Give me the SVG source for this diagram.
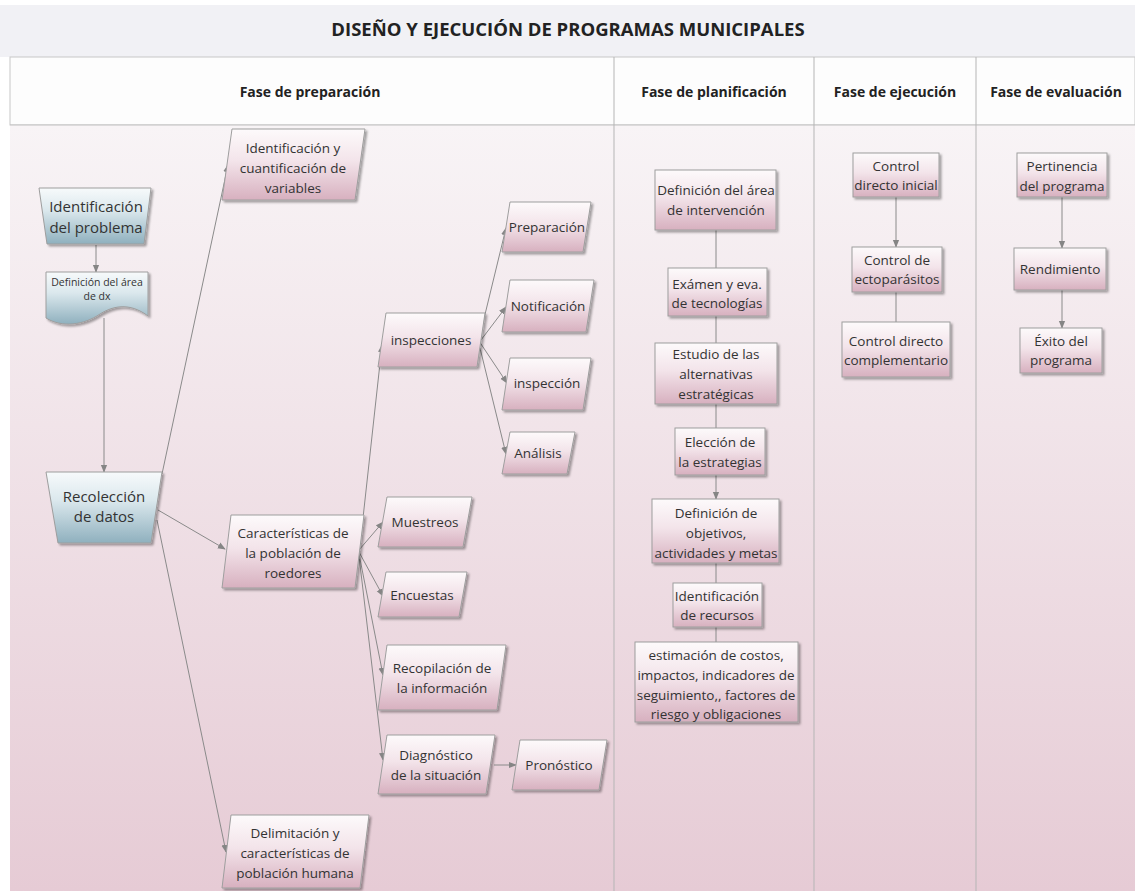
<svg xmlns="http://www.w3.org/2000/svg" width="1135" height="891" viewBox="0 0 1135 891">
<defs>
<linearGradient id="bodyG" x1="0" y1="0" x2="0" y2="1">
<stop offset="0" stop-color="#f8f4f6"/>
<stop offset="1" stop-color="#e6cbd5"/>
</linearGradient>
<linearGradient id="pinkG" x1="0" y1="0" x2="0" y2="1">
<stop offset="0" stop-color="#fdfafb"/>
<stop offset="0.45" stop-color="#f3e4ea"/>
<stop offset="1" stop-color="#d7b0bf"/>
</linearGradient>
<linearGradient id="blueG" x1="0" y1="0" x2="0" y2="1">
<stop offset="0" stop-color="#f7fafb"/>
<stop offset="0.4" stop-color="#dbe8ed"/>
<stop offset="1" stop-color="#8fb0be"/>
</linearGradient>
<filter id="sh" x="-10%" y="-10%" width="130%" height="130%">
<feDropShadow dx="2" dy="2" stdDeviation="1.2" flood-color="#000" flood-opacity="0.35"/>
</filter>
<marker id="ar" viewBox="0 0 10 10" refX="9" refY="5" markerWidth="8" markerHeight="8" markerUnits="userSpaceOnUse" orient="auto">
<path d="M0,1 L10,5 L0,9 Z" fill="#858585"/>
</marker>
</defs>
<style>
.t{font-family:"Open Sans","Noto Sans","DejaVu Sans",sans-serif;fill:#333;text-anchor:middle}
.n{font-size:13.5px}
.b{font-size:15px}
.s{font-size:10.5px}
.h{font-family:"Open Sans","Noto Sans","DejaVu Sans",sans-serif;font-weight:bold;fill:#222;text-anchor:middle;font-size:14px}
.pk{fill:url(#pinkG);stroke:#9e9e9e;stroke-width:1;filter:url(#sh)}
.bl{fill:url(#blueG);stroke:#9e9e9e;stroke-width:1;filter:url(#sh)}
.c{fill:none;stroke:#8a8a8a;stroke-width:1}
.ca{fill:none;stroke:#8a8a8a;stroke-width:1;marker-end:url(#ar)}
</style>

<!-- background frame -->
<rect x="0" y="0" width="1135" height="891" fill="#ffffff"/>
<rect x="0" y="5" width="1135" height="52" fill="#f1f1f5"/>
<text x="568" y="36" class="h" style="font-size:18.5px">DISEÑO Y EJECUCIÓN DE PROGRAMAS MUNICIPALES</text>
<rect x="10" y="57" width="1125" height="68" fill="#fdfdfd" stroke="#c8c8c8" stroke-width="1"/>
<rect x="10" y="125" width="1125" height="766" fill="url(#bodyG)"/>
<line x1="10" y1="125" x2="1135" y2="125" stroke="#c0c0c0" stroke-width="1"/>
<line x1="614" y1="57" x2="614" y2="891" stroke="#b5b5b5" stroke-width="1"/>
<line x1="814" y1="57" x2="814" y2="891" stroke="#b5b5b5" stroke-width="1"/>
<line x1="976" y1="57" x2="976" y2="891" stroke="#b5b5b5" stroke-width="1"/>
<text x="310" y="97" class="h">Fase de preparación</text>
<text x="714" y="97" class="h">Fase de planificación</text>
<text x="895" y="97" class="h">Fase de ejecución</text>
<text x="1056" y="97" class="h">Fase de evaluación</text>

<!-- connectors -->
<g id="connectors">
<line class="ca" x1="96" y1="245" x2="96" y2="272"/>
<line class="ca" x1="104" y1="318" x2="104" y2="472"/>
<line class="ca" x1="162" y1="474" x2="228" y2="165"/>
<line class="ca" x1="158" y1="510" x2="225" y2="549"/>
<line class="ca" x1="157" y1="520" x2="226" y2="852"/>
<line class="ca" x1="363" y1="518" x2="382" y2="345"/>
<line class="ca" x1="359" y1="550" x2="383" y2="522"/>
<line class="ca" x1="359" y1="552" x2="383" y2="596"/>
<line class="ca" x1="359" y1="554" x2="383" y2="675"/>
<line class="ca" x1="359" y1="556" x2="383" y2="760"/>
<line class="ca" x1="494" y1="765" x2="516" y2="765"/>
<line class="ca" x1="480" y1="335" x2="506" y2="228"/>
<line class="ca" x1="481" y1="340" x2="506" y2="307"/>
<line class="ca" x1="481" y1="344" x2="507" y2="383"/>
<line class="ca" x1="480" y1="348" x2="506" y2="454"/>
<line class="c" x1="716" y1="230" x2="716" y2="268"/>
<line class="c" x1="716" y1="316" x2="716" y2="343"/>
<line class="c" x1="716" y1="404" x2="716" y2="428"/>
<line class="ca" x1="716" y1="475" x2="716" y2="499"/>
<line class="c" x1="716" y1="563" x2="716" y2="583"/>
<line class="c" x1="716" y1="627" x2="716" y2="642"/>
<line class="ca" x1="896" y1="197" x2="896" y2="247"/>
<line class="c" x1="896" y1="292" x2="896" y2="322"/>
<line class="ca" x1="1062" y1="197" x2="1062" y2="248"/>
<line class="ca" x1="1062" y1="290" x2="1062" y2="328"/>
</g>

<!-- preparation phase nodes -->
<g id="n-ident-problema">
<path class="bl" d="M39,188 H151 L144,244 H47 Z"/>
<text class="t b" x="96" y="212">Identificación</text>
<text class="t b" x="96" y="233">del problema</text>
</g>
<g id="n-def-dx">
<path class="bl" d="M46,272 H148 V316 C132,304 116,304 100,314 C84,325 62,328 46,318 Z"/>
<text class="t s" x="97" y="286">Definición del área</text>
<text class="t s" x="97" y="300">de dx</text>
</g>
<g id="n-recoleccion">
<path class="bl" d="M46,472 H162 L151,543 H58 Z"/>
<text class="t b" x="104" y="502">Recolección</text>
<text class="t b" x="104" y="522">de datos</text>
</g>
<g id="n-ident-variables">
<path class="pk" d="M232,129 H365 L355,200 H222 Z"/>
<text class="t n" x="293" y="153">Identificación y</text>
<text class="t n" x="293" y="173">cuantificación de</text>
<text class="t n" x="293" y="193">variables</text>
</g>
<g id="n-caracteristicas">
<path class="pk" d="M231,515 H364 L355,588 H222 Z"/>
<text class="t n" x="293" y="538">Características de</text>
<text class="t n" x="293" y="558">la población de</text>
<text class="t n" x="293" y="578">roedores</text>
</g>
<g id="n-delimitacion">
<path class="pk" d="M231,815 H369 L360,888 H222 Z"/>
<text class="t n" x="295" y="838">Delimitación y</text>
<text class="t n" x="295" y="858">características de</text>
<text class="t n" x="295" y="878">población humana</text>
</g>
<g id="n-inspecciones">
<path class="pk" d="M386,313 H485 L477,367 H378 Z"/>
<text class="t n" x="431" y="345">inspecciones</text>
</g>
<g id="n-preparacion">
<path class="pk" d="M510,202 H591 L583,252 H502 Z"/>
<text class="t n" x="547" y="232">Preparación</text>
</g>
<g id="n-notificacion">
<path class="pk" d="M510,280 H594 L586,332 H502 Z"/>
<text class="t n" x="548" y="311">Notificación</text>
</g>
<g id="n-inspeccion">
<path class="pk" d="M510,358 H591 L583,410 H502 Z"/>
<text class="t n" x="547" y="388">inspección</text>
</g>
<g id="n-analisis">
<path class="pk" d="M510,432 H575 L567,474 H502 Z"/>
<text class="t n" x="538" y="458">Análisis</text>
</g>
<g id="n-muestreos">
<path class="pk" d="M387,497 H472 L463,547 H378 Z"/>
<text class="t n" x="425" y="527">Muestreos</text>
</g>
<g id="n-encuestas">
<path class="pk" d="M386,572 H467 L459,617 H378 Z"/>
<text class="t n" x="422" y="600">Encuestas</text>
</g>
<g id="n-recopilacion">
<path class="pk" d="M387,645 H506 L497,710 H378 Z"/>
<text class="t n" x="442" y="673">Recopilación de</text>
<text class="t n" x="442" y="693">la información</text>
</g>
<g id="n-diagnostico">
<path class="pk" d="M387,735 H495 L486,794 H378 Z"/>
<text class="t n" x="436" y="760">Diagnóstico</text>
<text class="t n" x="436" y="780">de la situación</text>
</g>
<g id="n-pronostico">
<path class="pk" d="M520,740 H607 L599,790 H512 Z"/>
<text class="t n" x="559" y="770">Pronóstico</text>
</g>

<!-- planning phase -->
<g id="n-def-area-int">
<rect class="pk" x="655" y="170" width="121" height="60"/>
<text class="t n" x="716" y="195">Definición del área</text>
<text class="t n" x="716" y="215">de intervención</text>
</g>
<g id="n-examen">
<rect class="pk" x="668" y="268" width="99" height="48"/>
<text class="t n" x="717" y="289">Exámen y eva.</text>
<text class="t n" x="717" y="308">de tecnologías</text>
</g>
<g id="n-estudio">
<rect class="pk" x="655" y="343" width="122" height="61"/>
<text class="t n" x="716" y="359">Estudio de las</text>
<text class="t n" x="716" y="379">alternativas</text>
<text class="t n" x="716" y="399">estratégicas</text>
</g>
<g id="n-eleccion">
<rect class="pk" x="675" y="428" width="90" height="47"/>
<text class="t n" x="720" y="447">Elección de</text>
<text class="t n" x="720" y="467">la estrategias</text>
</g>
<g id="n-objetivos">
<rect class="pk" x="652" y="499" width="127" height="64"/>
<text class="t n" x="716" y="518">Definición de</text>
<text class="t n" x="716" y="538">objetivos,</text>
<text class="t n" x="716" y="558">actividades y metas</text>
</g>
<g id="n-recursos">
<rect class="pk" x="673" y="583" width="89" height="44"/>
<text class="t n" x="717" y="601">Identificación</text>
<text class="t n" x="717" y="620">de recursos</text>
</g>
<g id="n-estimacion">
<rect class="pk" x="635" y="642" width="163" height="80"/>
<text class="t n" x="716" y="660">estimación de costos,</text>
<text class="t n" x="716" y="680">impactos, indicadores de</text>
<text class="t n" x="716" y="700">seguimiento,, factores de</text>
<text class="t n" x="716" y="719">riesgo y obligaciones</text>
</g>

<!-- execution phase -->
<g id="n-control-inicial">
<rect class="pk" x="853" y="153" width="86" height="44"/>
<text class="t n" x="896" y="171">Control</text>
<text class="t n" x="896" y="190">directo inicial</text>
</g>
<g id="n-ectoparasitos">
<rect class="pk" x="852" y="247" width="90" height="45"/>
<text class="t n" x="897" y="265">Control de</text>
<text class="t n" x="897" y="284">ectoparásitos</text>
</g>
<g id="n-complementario">
<rect class="pk" x="842" y="322" width="108" height="55"/>
<text class="t n" x="896" y="346">Control directo</text>
<text class="t n" x="896" y="365">complementario</text>
</g>

<!-- evaluation phase -->
<g id="n-pertinencia">
<rect class="pk" x="1017" y="153" width="90" height="44"/>
<text class="t n" x="1062" y="171">Pertinencia</text>
<text class="t n" x="1062" y="191">del programa</text>
</g>
<g id="n-rendimiento">
<rect class="pk" x="1014" y="248" width="92" height="42"/>
<text class="t n" x="1060" y="274">Rendimiento</text>
</g>
<g id="n-exito">
<rect class="pk" x="1020" y="328" width="82" height="45"/>
<text class="t n" x="1061" y="346">Éxito del</text>
<text class="t n" x="1061" y="365">programa</text>
</g>
</svg>
